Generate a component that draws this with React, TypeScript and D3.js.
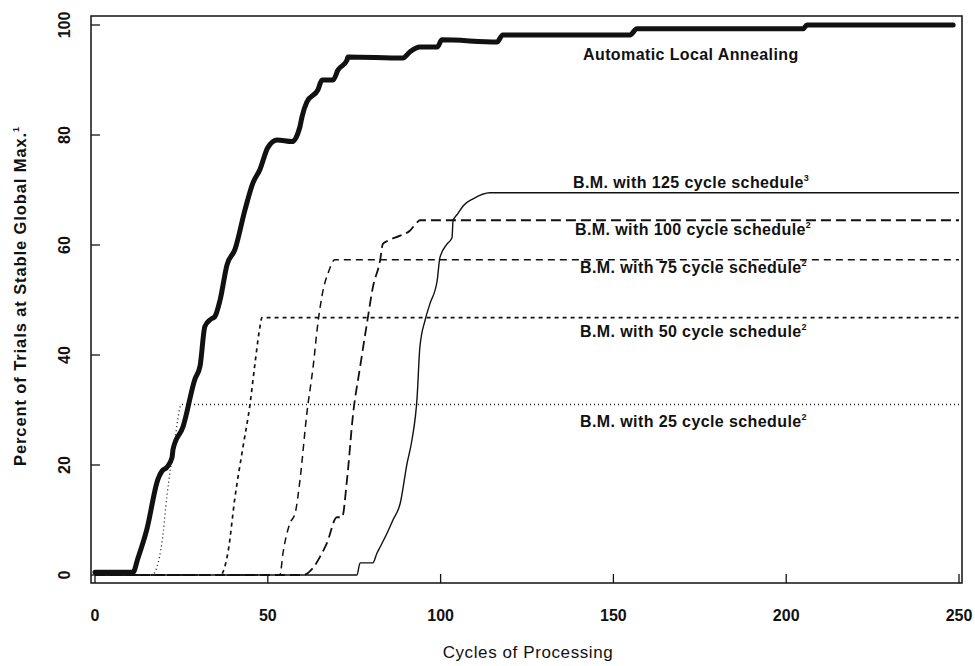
import React from "react";
import * as d3 from "d3";

// values: [cycle, percent]
const annealing: [number, number][] = [
  [0, 0.5], [11, 0.5], [12.4, 3], [15, 8.3], [18.2, 17.4], [19.4, 18.9], [20.8, 19.6],
  [22.3, 21.4], [22.6, 22.9], [25.5, 27], [28.9, 35.6], [30.4, 38], [31.8, 45.2],
  [33.5, 46.5], [34.7, 47], [36.2, 50], [38.2, 56.4], [40.5, 59.2], [43.4, 66.4],
  [45.7, 71.3], [47.7, 73.7], [50, 77.7], [52.7, 79.1], [57, 78.8], [59.3, 81.5],
  [59.9, 83.3], [61.3, 86], [64.5, 88.2], [65.7, 90], [68.9, 90], [70.3, 91.8],
  [72.9, 93.6], [73.2, 94.2], [89.1, 94], [91.1, 95.1], [94, 96], [99, 96],
  [100.4, 97.3], [116.3, 96.9], [118, 98.2], [154.8, 98.2], [156.8, 99.3],
  [204.9, 99.3], [206, 100], [248.3, 100],
];

const bm125: [number, number][] = [
  [0, 0], [75.8, 0], [76.7, 2.2], [80.4, 2.2], [81.6, 4], [82.5, 5.1], [84.5, 7.6],
  [86.2, 10], [88.3, 13], [90.3, 20.3], [91.7, 24.5], [93.2, 32.3], [94, 41.4],
  [95.5, 46.3], [96.9, 49.3], [99, 53.5], [99.8, 57.7], [101.9, 60.2], [103.3, 61.3],
  [103.6, 64.4], [105, 65.7], [106.5, 67.1], [109.4, 68.4], [114.3, 69.5], [250, 69.5],
];

const bm100: [number, number][] = [
  [0, 0], [60.2, 0], [63.1, 1.3], [65.1, 3.3], [67.1, 5.8], [70, 10.5], [71.5, 10.5],
  [72.9, 17.2], [74.7, 29.4], [76.7, 37.8], [78.7, 45.8], [80.4, 52.3], [82.5, 57.2],
  [83.3, 60.2], [84.8, 60.8], [88.3, 61.7], [91.1, 62.6], [93.2, 64.1], [94, 64.5],
  [250, 64.5],
];

const bm75: [number, number][] = [
  [0, 0], [53.5, 0], [54.4, 4], [56.4, 9.4], [57.9, 11.2], [59.3, 17.2], [61.3, 29.4],
  [63.1, 37.8], [64.5, 45.8], [66, 51.8], [67.4, 54.8], [69.4, 57.3], [250, 57.3],
];

const bm50: [number, number][] = [
  [0, 0], [36.5, 0], [37, 0.5], [38.5, 4.2], [40.5, 14.1], [42.8, 23.2], [44.8, 30.8],
  [46.3, 38.5], [47.7, 45], [48.3, 46.8], [250, 46.8],
];

const bm25: [number, number][] = [
  [0, 0], [16.5, 0], [19.4, 6], [20.8, 14.3], [23, 24], [25, 31], [250, 31],
];

const seriesNames = [
  "Automatic Local Annealing",
  "B.M. with 125 cycle schedule",
  "B.M. with 100 cycle schedule",
  "B.M. with 75 cycle schedule",
  "B.M. with 50 cycle schedule",
  "B.M. with 25 cycle schedule",
];
const footnotes = ["", "3", "2", "2", "2", "2"];

const xTicks = [0, 50, 100, 150, 200, 250];
const yTicks = [0, 20, 40, 60, 80, 100];

const xTitle = "Cycles of Processing";
const yTitle = "Percent of Trials at Stable Global Max.";

const font = "'Liberation Sans', Arial, Helvetica, sans-serif";
const ink = "#111";

export default function App() {
  const width = 975;
  const height = 666;
  const frame = { left: 91, right: 962, top: 16, bottom: 583 };

  const x = d3.scaleLinear().domain([0, 250]).range([95, 959]);
  const y = d3.scaleLinear().domain([0, 100]).range([575, 25]);

  const line = d3
    .line<[number, number]>()
    .x((d) => x(d[0]))
    .y((d) => y(d[1]))
    .curve(d3.curveMonotoneX);

  const series = [
    { data: annealing, width: 5, dash: "none" },
    { data: bm125, width: 1.4, dash: "none" },
    { data: bm100, width: 1.8, dash: "10,5" },
    { data: bm75, width: 1.5, dash: "7,5" },
    { data: bm50, width: 1.7, dash: "4,4" },
    { data: bm25, width: 1.3, dash: "1,3" },
  ];

  // label anchor points (start x, baseline y) in pixels
  const labelPos = [
    [583, 60],
    [573, 188],
    [575, 235],
    [580, 273],
    [580, 337],
    [580, 427],
  ];

  return (
    <svg
      width={width}
      height={height}
      style={{ position: "absolute", left: 0, top: 0, background: "#fff" }}
      fontFamily={font}
    >
      <rect x={0} y={0} width={width} height={height} fill="#fff" />

      {/* frame */}
      <rect
        x={frame.left}
        y={frame.top}
        width={frame.right - frame.left}
        height={frame.bottom - frame.top}
        fill="none"
        stroke={ink}
        strokeWidth={1.5}
      />

      {/* y ticks, pointing inward */}
      {yTicks.map((t) => (
        <g key={"y" + t}>
          <line
            x1={frame.left}
            x2={frame.left + 9}
            y1={y(t)}
            y2={y(t)}
            stroke={ink}
            strokeWidth={1.3}
          />
          <text
            transform={`translate(70,${y(t)}) rotate(-90)`}
            textAnchor="middle"
            fontSize={16}
            fontWeight="bold"
            fill={ink}
          >
            {t}
          </text>
        </g>
      ))}

      {/* x ticks */}
      {xTicks.map((t) => (
        <g key={"x" + t}>
          <line
            x1={x(t)}
            x2={x(t)}
            y1={frame.bottom}
            y2={frame.bottom - 9}
            stroke={ink}
            strokeWidth={1.3}
          />
          <text
            x={x(t)}
            y={621}
            textAnchor="middle"
            fontSize={16}
            fontWeight="bold"
            fill={ink}
          >
            {t}
          </text>
        </g>
      ))}

      {/* curves */}
      {series.map((s, i) => (
        <path
          key={i}
          d={line(s.data) || ""}
          fill="none"
          stroke={ink}
          strokeWidth={s.width}
          strokeDasharray={s.dash}
          strokeLinejoin="round"
          strokeLinecap={i === 0 ? "round" : "butt"}
        />
      ))}

      {/* curve labels */}
      {seriesNames.map((name, i) => (
        <text
          key={name}
          x={labelPos[i][0]}
          y={labelPos[i][1]}
          fontSize={16}
          fontWeight="bold"
          letterSpacing={0.4}
          fill={ink}
        >
          {name}
          {footnotes[i] && (
            <tspan dy={-7} fontSize={9}>
              {footnotes[i]}
            </tspan>
          )}
        </text>
      ))}

      {/* axis titles */}
      <text
        x={528}
        y={658}
        textAnchor="middle"
        fontSize={17}
        letterSpacing={0.6}
        fill={ink}
      >
        {xTitle}
      </text>
      <text
        transform="translate(26,296) rotate(-90)"
        textAnchor="middle"
        fontSize={16.5}
        fontWeight="bold"
        letterSpacing={0.9}
        fill={ink}
      >
        {yTitle}
        <tspan dy={-7} fontSize={9}>
          1
        </tspan>
      </text>
    </svg>
  );
}
